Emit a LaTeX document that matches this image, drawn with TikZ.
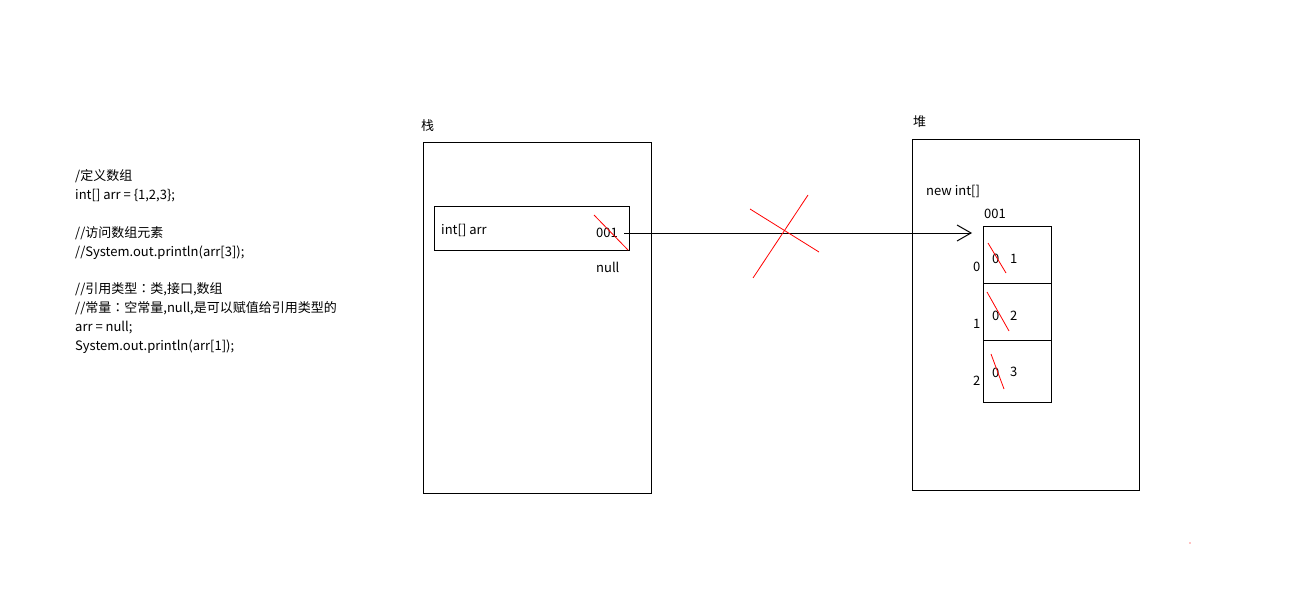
\documentclass[tikz,border=0pt]{standalone}
\usepackage{fontspec}
\setmainfont{Noto Sans CJK SC}
\newfontfamily\jpfont{Noto Sans CJK JP}
\newcommand{\fwcolon}{{\jpfont ：}}
\usetikzlibrary{arrows.meta}
\begin{document}
\begin{tikzpicture}[x=1pt,y=-1pt,
  txt/.style={anchor=west,inner sep=0pt,yshift=-1.5pt,font=\fontsize{13}{15}\selectfont},
  box/.style={draw=black,line width=1pt},
  strike/.style={draw=red,line width=0.8pt},
  ptr/.style={line width=1pt,-{Straight Barb[length=14pt,width=16pt,line width=1pt]}}]
\useasboundingbox[fill=white] (0,0) rectangle (1297,600);

% source code notes
\node[txt] (c1) at (75,175) {/定义数组};
\node[txt] (c2) at (75,194) {int[] arr = \{1,2,3\};};
\node[txt] (c4) at (75,232) {//访问数组元素};
\node[txt] (c5) at (75,251) {//System.out.println(arr[3]);};
\node[txt] (c7) at (75,288) {//引用类型\fwcolon 类,接口,数组};
\node[txt] (c8) at (75,307) {//常量\fwcolon 空常量,null,是可以赋值给引用类型的};
\node[txt] (c9) at (75,326) {arr = null;};
\node[txt] (c10) at (75,345) {System.out.println(arr[1]);};

% stack
\node[txt] (stacklbl) at (421,124) {栈};
\draw[box] (423,142) rectangle (651,493);
\draw[box] (434,206) rectangle (629,250);
\node[txt] (var) at (441,229) {int[] arr};
\node[txt] (p001) at (596,231) {001};
\node[txt] (pnull) at (596,266) {null};
\draw[strike] (594,215) -- (628,250);

% heap
\node[txt] (heaplbl) at (913,120) {堆};
\draw[box] (912,139) rectangle (1139,490);
\node[txt] (newarr) at (926,190) {new int[]};
\node[txt] (addr) at (984,212) {001};
\draw[box] (983,226) rectangle (1051,402);
\draw[box] (983,283) -- (1051,283);
\draw[box] (983,340) -- (1051,340);

\node[txt] (i0) at (973,265) {0};
\node[txt] (i1) at (973,322) {1};
\node[txt] (i2) at (973,379) {2};

\node[txt] (v0old) at (992,257) {0};
\node[txt] (v0) at (1010,257) {1};
\node[txt] (v1old) at (992,314) {0};
\node[txt] (v1) at (1010,314) {2};
\node[txt] (v2old) at (992,371) {0};
\node[txt] (v2) at (1010,370) {3};
\draw[strike] (988,243) -- (1006,273);
\draw[strike] (987,292) -- (1009,331);
\draw[strike] (991,354) -- (1004,389);

% reference from stack to heap, crossed out
\coordinate (tip) at (972,233);
\draw[ptr] ([xshift=6pt]p001.east |- 0,233) -- (tip);
\draw[strike] (750,209) -- (819,252);
\draw[strike] (808,195) -- (753,278);

\fill[red] (1190,543) circle (0.6);
\end{tikzpicture}
\end{document}
